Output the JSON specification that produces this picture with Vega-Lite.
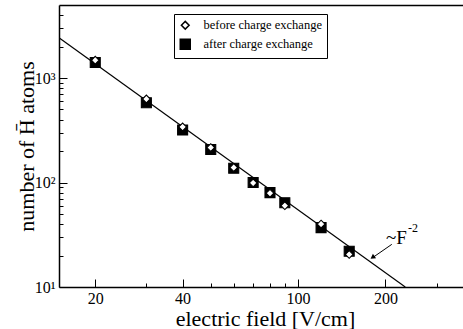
{
  "$schema": "https://vega.github.io/schema/vega-lite/v6.json",
  "width": 404,
  "height": 282,
  "autosize": {"type": "none"},
  "padding": {"left": 59, "top": 5, "right": 0, "bottom": 42},
  "config": {
    "view": {"stroke": null},
    "font": "Liberation Serif",
    "axis": {"grid": false, "domainColor": "black", "tickColor": "black", "labelColor": "black", "titleColor": "black", "labelFont": "Liberation Serif", "titleFont": "Liberation Serif", "labelFontSize": 16, "titleFontSize": 22, "titleFontWeight": "normal", "domainWidth": 1.5, "tickWidth": 1},
    "legend": {"labelFont": "Liberation Serif", "labelFontSize": 12.5, "labelColor": "black"}
  },
  "datasets": {
    "points": [
      {"F": 20, "N": 1410, "series": "after charge exchange"},
      {"F": 30, "N": 580, "series": "after charge exchange"},
      {"F": 40, "N": 318, "series": "after charge exchange"},
      {"F": 50, "N": 207, "series": "after charge exchange"},
      {"F": 60, "N": 137, "series": "after charge exchange"},
      {"F": 70, "N": 100, "series": "after charge exchange"},
      {"F": 80, "N": 80, "series": "after charge exchange"},
      {"F": 90, "N": 64, "series": "after charge exchange"},
      {"F": 120, "N": 37, "series": "after charge exchange"},
      {"F": 150, "N": 22, "series": "after charge exchange"},
      {"F": 20, "N": 1480, "series": "before charge exchange"},
      {"F": 30, "N": 630, "series": "before charge exchange"},
      {"F": 40, "N": 340, "series": "before charge exchange"},
      {"F": 50, "N": 216, "series": "before charge exchange"},
      {"F": 60, "N": 139, "series": "before charge exchange"},
      {"F": 70, "N": 99, "series": "before charge exchange"},
      {"F": 80, "N": 79, "series": "before charge exchange"},
      {"F": 90, "N": 60, "series": "before charge exchange"},
      {"F": 120, "N": 40, "series": "before charge exchange"},
      {"F": 150, "N": 20.5, "series": "before charge exchange"}
    ],
    "fit": [{"F": 15, "N": 2430}, {"F": 234, "N": 10}],
    "arrow": [{"F": 210.3, "N": 25.6, "F2": 182.6, "N2": 19.5}],
    "head": [{"F": 180.5, "N": 19.2}],
    "main": [{"F": 200.8, "N": 25.8, "label": "~F"}],
    "sup": [{"F": 239.3, "N": 33.6, "label": "-2"}]
  },
  "layer": [
    {
      "data": {"name": "fit"},
      "mark": {"type": "line", "color": "black", "strokeWidth": 1.2, "clip": true},
      "encoding": {
        "x": {"field": "F", "type": "quantitative", "scale": {"type": "log", "domain": [15, 370], "nice": false},
          "axis": {"orient": "bottom", "values": [20, 40, 100, 200], "tickSize": -8, "labels": false, "domain": false, "title": null}},
        "y": {"field": "N", "type": "quantitative", "scale": {"type": "log", "domain": [10, 5000], "nice": false},
          "axis": {"orient": "left", "values": [10, 100, 1000], "tickSize": -8, "labels": false, "domain": false, "title": null}}
      }
    },
    {
      "data": {"name": "points"},
      "mark": {"type": "point", "filled": true, "stroke": "black", "strokeWidth": 1.1, "opacity": 1},
      "encoding": {
        "x": {"field": "F", "type": "quantitative", "scale": {"type": "log", "domain": [15, 370], "nice": false},
          "axis": {"orient": "bottom", "values": [20, 40, 100, 200], "ticks": false, "labelPadding": 3, "title": "electric field [V/cm]", "titleX": 206, "titleY": 38, "titleAlign": "center", "titleBaseline": "alphabetic", "titleAnchor": null}},
        "y": {"field": "N", "type": "quantitative", "scale": {"type": "log", "domain": [10, 5000], "nice": false},
          "axis": {"orient": "left", "values": [10, 100, 1000], "ticks": false, "labelPadding": 4, "labelBaseline": "middle", "labelExpr": "datum.value == 10 ? '10¹' : datum.value == 100 ? '10²' : '10³'", "title": "number of H̄ atoms", "titleX": -26, "titleY": 141, "titleAlign": "center", "titleBaseline": "alphabetic", "titleAnchor": null}},
        "shape": {"field": "series", "type": "nominal", "scale": {"domain": ["before charge exchange", "after charge exchange"], "range": ["diamond", "square"]},
          "legend": {"title": null, "orient": "none", "legendX": 115, "legendY": 9, "strokeColor": "black", "fillColor": "white", "padding": 5, "labelOffset": 12, "rowPadding": 3,
            "encode": {"symbols": {"update": {"stroke": {"value": "black"}, "strokeWidth": {"value": 1}}}}}},
        "fill": {"field": "series", "type": "nominal", "scale": {"domain": ["before charge exchange", "after charge exchange"], "range": ["white", "black"]},
          "legend": {"title": null, "orient": "none", "legendX": 115, "legendY": 9, "strokeColor": "black", "fillColor": "white", "padding": 5, "labelOffset": 12, "rowPadding": 3,
            "encode": {"symbols": {"update": {"stroke": {"value": "black"}, "strokeWidth": {"value": 1}}}}}},
        "size": {"field": "series", "type": "nominal", "scale": {"domain": ["before charge exchange", "after charge exchange"], "range": [60, 100]},
          "legend": {"title": null, "orient": "none", "legendX": 115, "legendY": 9, "strokeColor": "black", "fillColor": "white", "padding": 5, "labelOffset": 12, "rowPadding": 3,
            "encode": {"symbols": {"update": {"stroke": {"value": "black"}, "strokeWidth": {"value": 1}}}}}}
      }
    },
    {
      "data": {"name": "points"},
      "mark": {"type": "rule", "opacity": 0},
      "encoding": {
        "x": {"field": "F", "type": "quantitative", "scale": {"type": "log", "domain": [15, 370], "nice": false},
          "axis": {"orient": "bottom", "values": [30, 50, 60, 70, 80, 90, 300], "tickSize": -4, "labels": false, "domain": false, "title": null}},
        "y": {"field": "N", "type": "quantitative", "scale": {"type": "log", "domain": [10, 5000], "nice": false},
          "axis": {"orient": "left", "values": [20, 30, 40, 50, 60, 70, 80, 90, 200, 300, 400, 500, 600, 700, 800, 900, 2000, 3000, 4000], "tickSize": -4, "labels": false, "domain": false, "title": null}}
      }
    },
    {
      "data": {"name": "arrow"},
      "mark": {"type": "rule", "color": "black", "strokeWidth": 1},
      "encoding": {
        "x": {"field": "F", "type": "quantitative", "scale": {"type": "log", "domain": [15, 370], "nice": false},
          "axis": {"orient": "top", "ticks": false, "labels": false, "domain": true, "title": null}},
        "y": {"field": "N", "type": "quantitative", "scale": {"type": "log", "domain": [10, 5000], "nice": false}, "axis": null},
        "x2": {"field": "F2"},
        "y2": {"field": "N2"}
      }
    },
    {
      "data": {"name": "head"},
      "mark": {"type": "point", "shape": "triangle-up", "filled": true, "color": "black", "size": 30, "angle": 235, "opacity": 1},
      "encoding": {
        "x": {"field": "F", "type": "quantitative", "scale": {"type": "log", "domain": [15, 370], "nice": false}, "axis": null},
        "y": {"field": "N", "type": "quantitative", "scale": {"type": "log", "domain": [10, 5000], "nice": false}, "axis": null}
      }
    },
    {
      "data": {"name": "main"},
      "mark": {"type": "text", "align": "left", "baseline": "alphabetic", "font": "Liberation Serif", "color": "black", "fontSize": 19},
      "encoding": {
        "x": {"field": "F", "type": "quantitative", "scale": {"type": "log", "domain": [15, 370], "nice": false}, "axis": null},
        "y": {"field": "N", "type": "quantitative", "scale": {"type": "log", "domain": [10, 5000], "nice": false}, "axis": null},
        "text": {"field": "label"}
      }
    },
    {
      "data": {"name": "sup"},
      "mark": {"type": "text", "align": "left", "baseline": "alphabetic", "font": "Liberation Serif", "color": "black", "fontSize": 12},
      "encoding": {
        "x": {"field": "F", "type": "quantitative", "scale": {"type": "log", "domain": [15, 370], "nice": false}, "axis": null},
        "y": {"field": "N", "type": "quantitative", "scale": {"type": "log", "domain": [10, 5000], "nice": false}, "axis": null},
        "text": {"field": "label"}
      }
    }
  ],
  "resolve": {"axis": {"x": "independent", "y": "independent"}}
}
